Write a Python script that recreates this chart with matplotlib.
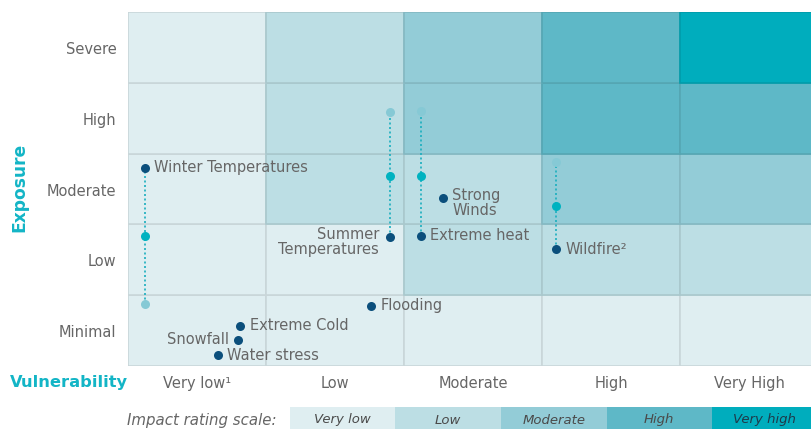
import matplotlib
matplotlib.use("Agg")
import matplotlib.pyplot as plt
from matplotlib.patches import Rectangle
import numpy as np

# ---- data ----
vuln_labels = ["Very low¹", "Low", "Moderate", "High", "Very High"]
exposure_labels = ["Minimal", "Low", "Moderate", "High", "Severe"]
scale_labels = ["Very low", "Low", "Moderate", "High", "Very high"]
scale_colors = ["#dfeef1", "#bcdee4", "#93ccd7", "#5eb8c7", "#00adbd"]

# impact level per cell: rows = exposure (Minimal..Severe), cols = vulnerability
impact_matrix = [
    [0, 0, 0, 0, 0],
    [0, 0, 1, 1, 1],
    [0, 1, 1, 2, 2],
    [0, 1, 2, 3, 3],
    [0, 1, 2, 3, 4],
]

hazards = ["Winter Temperatures", "Summer\nTemperatures", "Extreme heat", "Strong\nWinds",
           "Wildfire²", "Flooding", "Extreme Cold", "Snowfall", "Water stress"]
hazard_vuln = [0.12, 1.90, 2.12, 2.28, 3.10, 1.76, 0.81, 0.80, 0.65]
exposure_now = [2.80, 1.82, 1.84, 2.37, 1.65, 0.85, 0.565, 0.37, 0.155]
exposure_mid = [1.84, 2.68, 2.68, None, 2.26, None, None, None, None]
exposure_far = [0.876, 3.59, 3.60, None, 2.88, None, None, None, None]

label_side = ["right", "left", "right", "right", "right", "right", "right", "left", "right"]

DARK = "#0b4f7c"
TEAL = "#00b2c0"
LIGHT = "#86c9d5"
TEXT = "#666666"
ACCENT = "#13b5c6"

W, H = 812, 429
fig = plt.figure(figsize=(W / 100, H / 100), dpi=100)
ax = fig.add_axes([128 / W, 63 / H, 690 / W, 354 / H])
ax.set_xlim(0, 5)
ax.set_ylim(0, 5)
ax.axis("off")


def darker(c, f=0.9):
    rgb = np.array(matplotlib.colors.to_rgb(c))
    return tuple(rgb * f)


for r in range(5):
    for c in range(5):
        col = scale_colors[impact_matrix[r][c]]
        ax.add_patch(Rectangle((c, r), 1, 1, facecolor=col,
                               edgecolor=darker(col, 0.9), linewidth=1.2, zorder=1))

# points
for i, name in enumerate(hazards):
    x = hazard_vuln[i]
    ys = [exposure_now[i]] + [v for v in (exposure_mid[i], exposure_far[i]) if v is not None]
    if len(ys) > 1:
        ax.plot([x, x], [min(ys), max(ys)], linestyle=(0, (1.2, 1.5)), color="#1aaebe",
                linewidth=1.2, zorder=2)
    if exposure_far[i] is not None:
        ax.plot(x, exposure_far[i], "o", color=LIGHT, markersize=6.5, zorder=3, mec="none")
    if exposure_mid[i] is not None:
        ax.plot(x, exposure_mid[i], "o", color=TEAL, markersize=6.5, zorder=3, mec="none")
    ax.plot(x, exposure_now[i], "o", color=DARK, markersize=6.5, zorder=4, mec="none")

# point labels (offsets in points)
fs = 10.5
for i, name in enumerate(hazards):
    x = hazard_vuln[i]
    y = exposure_now[i]
    if label_side[i] == "right":
        if "\n" in name:
            ax.annotate(name, (x, y), xytext=(7, 7), textcoords="offset points",
                        ha="left", va="top", fontsize=fs, color=TEXT, linespacing=0.95, zorder=5)
        else:
            ax.annotate(name, (x, y), xytext=(7, 0), textcoords="offset points",
                        ha="left", va="center", fontsize=fs, color=TEXT, zorder=5)
    else:
        if "\n" in name:
            ax.annotate(name, (x, y), xytext=(-8, 7), textcoords="offset points",
                        ha="right", va="top", fontsize=fs, color=TEXT, linespacing=0.95,
                        multialignment="right", zorder=5)
        else:
            ax.annotate(name, (x, y), xytext=(-7, 0), textcoords="offset points",
                        ha="right", va="center", fontsize=fs, color=TEXT, zorder=5)

# axis tick labels
for r, lab in enumerate(exposure_labels):
    ax.text(-0.085, r + 0.47, lab, ha="right", va="center", fontsize=fs, color=TEXT)
for c, lab in enumerate(vuln_labels):
    ax.text(c + 0.5, -0.25, lab, ha="center", va="center", fontsize=fs, color=TEXT)

fig.text(19 / W, 1 - 187 / H, "Exposure", rotation=90, ha="center", va="center",
         fontsize=12.3, fontweight="bold", color=ACCENT)
fig.text(10 / W, 1 - 383 / H, "Vulnerability", ha="left", va="center",
         fontsize=11.7, fontweight="bold", color=ACCENT)

# impact scale legend
fig.text(277 / W, 1 - 420 / H, "Impact rating scale:", ha="right", va="center",
         fontsize=10.8, style="italic", color=TEXT)
lx0, lw, ly0, lh = 290, 105.5, 407, 24
for k, (lab, col) in enumerate(zip(scale_labels, scale_colors)):
    x0 = lx0 + k * lw
    fig.patches.append(Rectangle((x0 / W, 1 - (ly0 + lh) / H), lw / W, lh / H,
                                 facecolor=col, edgecolor="none",
                                 transform=fig.transFigure, figure=fig))
    fig.text((x0 + lw / 2) / W, 1 - 420 / H, lab, ha="center", va="center",
             fontsize=9.5, style="italic", color="#4a4a4a" if k < 4 else "#1e3a4a")

fig.savefig("out.png", dpi=100)
